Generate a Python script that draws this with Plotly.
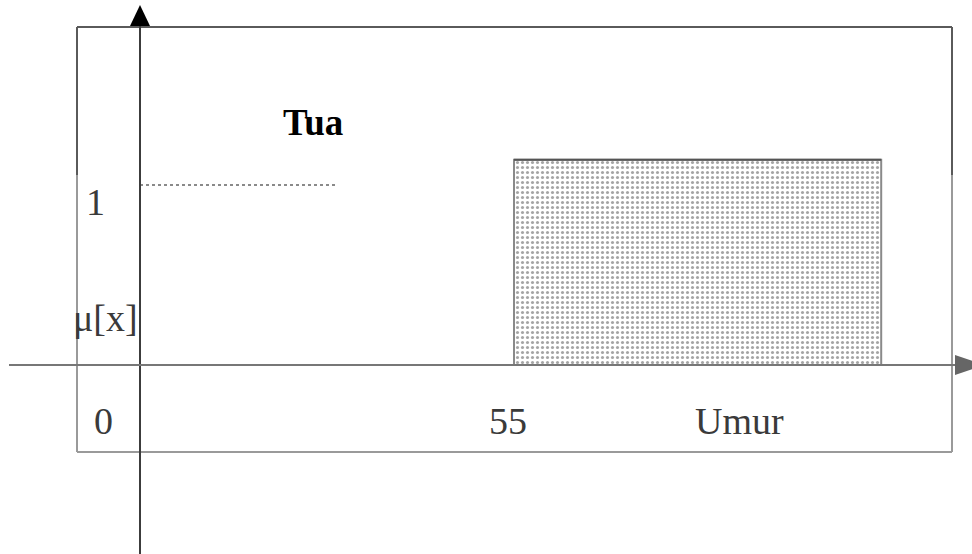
import plotly.graph_objects as go

# ---- data ----
set_name = "Tua"
x_title = "Umur"
y_title = "μ[x]"
x_ticks = [0, 55]
x_tick_labels = ["0", "55"]
y_ticks = [1]
y_tick_labels = ["1"]
rect_x = [55, 55, 109, 109]          # membership (Tua) from 55 upward
rect_y = [0, 1.14, 1.14, 0]
ref_line_x = [0, 29]                 # dotted reference at mu = 1
ref_line_y = [1, 1]

W, H = 972, 554
# pixel mapping of the axes (origin and scale)
X0_PX, X_SCALE = 140, 374 / 55
Y0_PX, Y_SCALE = 365, 180

def dx(px):
    return (px - X0_PX) / X_SCALE

def dy(py):
    return (Y0_PX - py) / Y_SCALE

xr = [dx(0), dx(W)]
yr = [dy(H), dy(0)]

fig = go.Figure()

# membership rectangle with stipple
fig.add_trace(go.Scatter(
    x=rect_x, y=rect_y, mode="lines", fill="toself",
    fillcolor="white",
    fillpattern=dict(shape=".", fgcolor="#4a4a4a", bgcolor="white", size=5, solidity=0.3),
    line=dict(color="#8a8a8a", width=2), hoverinfo="skip", showlegend=False))
fig.add_trace(go.Scatter(
    x=rect_x[1:3], y=rect_y[1:3], mode="lines",
    line=dict(color="#555555", width=2), hoverinfo="skip", showlegend=False))

# dotted reference line
fig.add_trace(go.Scatter(
    x=ref_line_x, y=ref_line_y, mode="lines",
    line=dict(color="#8a8a8a", width=2, dash="dot"), hoverinfo="skip", showlegend=False))

shapes = []
# outer frame: upper part darker, lower lighter
bx0, bx1, by0, by1, bmid = dx(77), dx(952), dy(27), dy(452), dy(175)
dark, light = "#5a5a5a", "#9a9a9a"
shapes += [
    dict(type="line", x0=bx0, x1=bx1, y0=by0, y1=by0, line=dict(color=dark, width=2)),
    dict(type="line", x0=bx0, x1=bx0, y0=by0, y1=bmid, line=dict(color=dark, width=2)),
    dict(type="line", x0=bx1, x1=bx1, y0=by0, y1=bmid, line=dict(color=dark, width=2)),
    dict(type="line", x0=bx0, x1=bx0, y0=bmid, y1=by1, line=dict(color=light, width=2)),
    dict(type="line", x0=bx1, x1=bx1, y0=bmid, y1=by1, line=dict(color=light, width=2)),
    dict(type="line", x0=bx0, x1=bx1, y0=by1, y1=by1, line=dict(color=light, width=2)),
]
# axes
shapes.append(dict(type="line", x0=0, x1=0, y0=dy(H + 10), y1=dy(24), line=dict(color="#3c3c3c", width=2)))
shapes.append(dict(type="line", x0=dx(9), x1=dx(958), y0=0, y1=0, line=dict(color="#777777", width=2)))
# arrow heads
shapes.append(dict(type="path",
                   path=f"M {dx(130)} {dy(26)} L {dx(150)} {dy(26)} L 0 {dy(5)} Z",
                   fillcolor="black", line=dict(width=0)))
shapes.append(dict(type="path",
                   path=f"M {dx(955)} {dy(355)} L {dx(955)} {dy(375)} L {dx(985)} 0 Z",
                   fillcolor="#666666", line=dict(width=0)))
fig.update_layout(shapes=shapes)

serif = "Liberation Serif, Times New Roman, serif"
tcol = "#3a3a3a"
ann = []
# x tick labels (shifted left of their tick)
shifts = [-37, -6]
for v, lab, s in zip(x_ticks, x_tick_labels, shifts):
    ann.append(dict(x=v, y=dy(421), text=lab, showarrow=False, xanchor="center", yanchor="middle",
                    xshift=s, font=dict(family=serif, size=38, color=tcol)))
for v, lab in zip(y_ticks, y_tick_labels):
    ann.append(dict(x=dx(95), y=v, text=lab, showarrow=False, xanchor="center", yanchor="middle",
                    yshift=-17, font=dict(family=serif, size=38, color=tcol)))
ann.append(dict(x=dx(739), y=dy(421), text=x_title, showarrow=False, xanchor="center", yanchor="middle",
                font=dict(family=serif, size=38, color=tcol)))
ann.append(dict(x=dx(105), y=dy(318), text=y_title, showarrow=False, xanchor="center", yanchor="middle",
                font=dict(family=serif, size=38, color=tcol)))
ann.append(dict(x=dx(313), y=dy(122), text=f"<b>{set_name}</b>", showarrow=False, xanchor="center",
                yanchor="middle", font=dict(family=serif, size=37, color="black")))
fig.update_layout(annotations=ann)

fig.update_layout(
    width=W, height=H, margin=dict(l=0, r=0, t=0, b=0),
    paper_bgcolor="white", plot_bgcolor="white", showlegend=False,
    xaxis=dict(range=xr, visible=False, fixedrange=True),
    yaxis=dict(range=yr, visible=False, fixedrange=True),
)
fig.write_html("out.html", config={"displayModeBar": False, "staticPlot": True},
               post_script="document.body.style.margin='0';document.body.style.overflow='hidden';")
